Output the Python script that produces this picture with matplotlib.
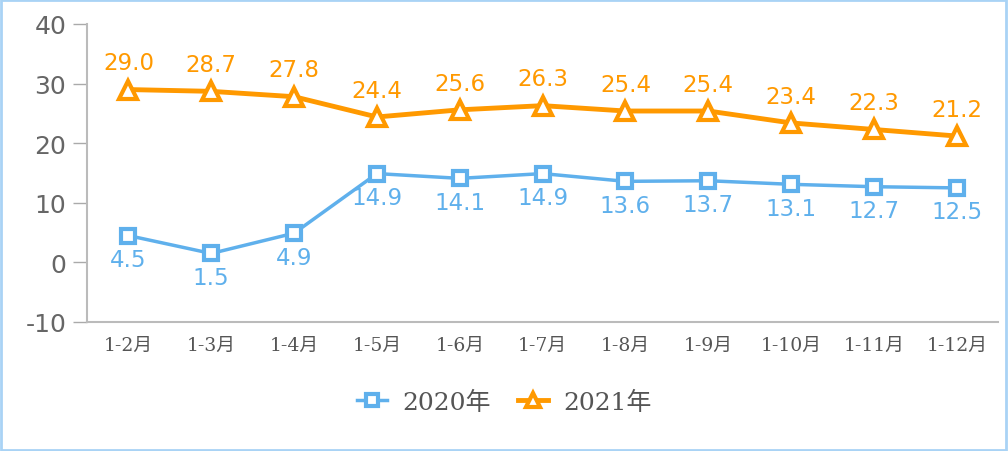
import matplotlib.pyplot as plt
from matplotlib.patches import Rectangle

# data
months = ["1-2月", "1-3月", "1-4月", "1-5月", "1-6月", "1-7月",
          "1-8月", "1-9月", "1-10月", "1-11月", "1-12月"]
y2020 = [4.5, 1.5, 4.9, 14.9, 14.1, 14.9, 13.6, 13.7, 13.1, 12.7, 12.5]
y2021 = [29.0, 28.7, 27.8, 24.4, 25.6, 26.3, 25.4, 25.4, 23.4, 22.3, 21.2]
yticks = [-10, 0, 10, 20, 30, 40]

blue = "#5fb0ec"
orange = "#ff9900"
cjk_serif = ["DejaVu Serif", "Noto Sans CJK SC"]

fig = plt.figure(figsize=(10.08, 4.52), dpi=100)
ax = fig.add_axes([0.0863, 0.2854, 0.904, 0.6593])

x = range(len(months))
ax.plot(x, y2020, color=blue, lw=2.5, marker="s", ms=10, mfc="white",
        mec=blue, mew=3, label="2020年", zorder=3)
ax.plot(x, y2021, color=orange, lw=3.5, marker="^", ms=13, mfc="white",
        mec=orange, mew=3, label="2021年", zorder=3)

for i, v in enumerate(y2021):
    ax.annotate(f"{v:.1f}", (i, v), xytext=(0, 11), textcoords="offset points",
                ha="center", va="bottom", color=orange, fontsize=16.5)
for i, v in enumerate(y2020):
    ax.annotate(f"{v:.1f}", (i, v), xytext=(0, -9), textcoords="offset points",
                ha="center", va="top", color=blue, fontsize=16.5)

ax.set_xlim(-0.5, len(months) - 0.5)
ax.set_ylim(-10, 40)
ax.set_yticks(yticks)
ax.set_yticklabels([str(t) for t in yticks], fontsize=18, color="#666666")
ax.set_xticks(list(x))
ax.set_xticklabels(months, fontsize=13.5, color="#555555", family=cjk_serif)
ax.tick_params(axis="x", length=0, pad=10)
ax.tick_params(axis="y", length=10, width=1, color="#aaaaaa", pad=5)

for s in ["top", "right"]:
    ax.spines[s].set_visible(False)
for s in ["left", "bottom"]:
    ax.spines[s].set_color("#bbbbbb")
    ax.spines[s].set_linewidth(1.5)

leg = ax.legend(loc="upper center", bbox_to_anchor=(0.458, -0.155), ncol=2,
                frameon=False, prop={"family": cjk_serif, "size": 18},
                handlelength=1.2, handletextpad=0.6, columnspacing=1.1,
                markerscale=0.8)
for t in leg.get_texts():
    t.set_color("#555555")

fig.patches.append(Rectangle((0.001, 0.002), 0.997, 0.995, transform=fig.transFigure,
                             fill=False, edgecolor="#a9d3f5", lw=2))

fig.savefig("out.png", dpi=100)
